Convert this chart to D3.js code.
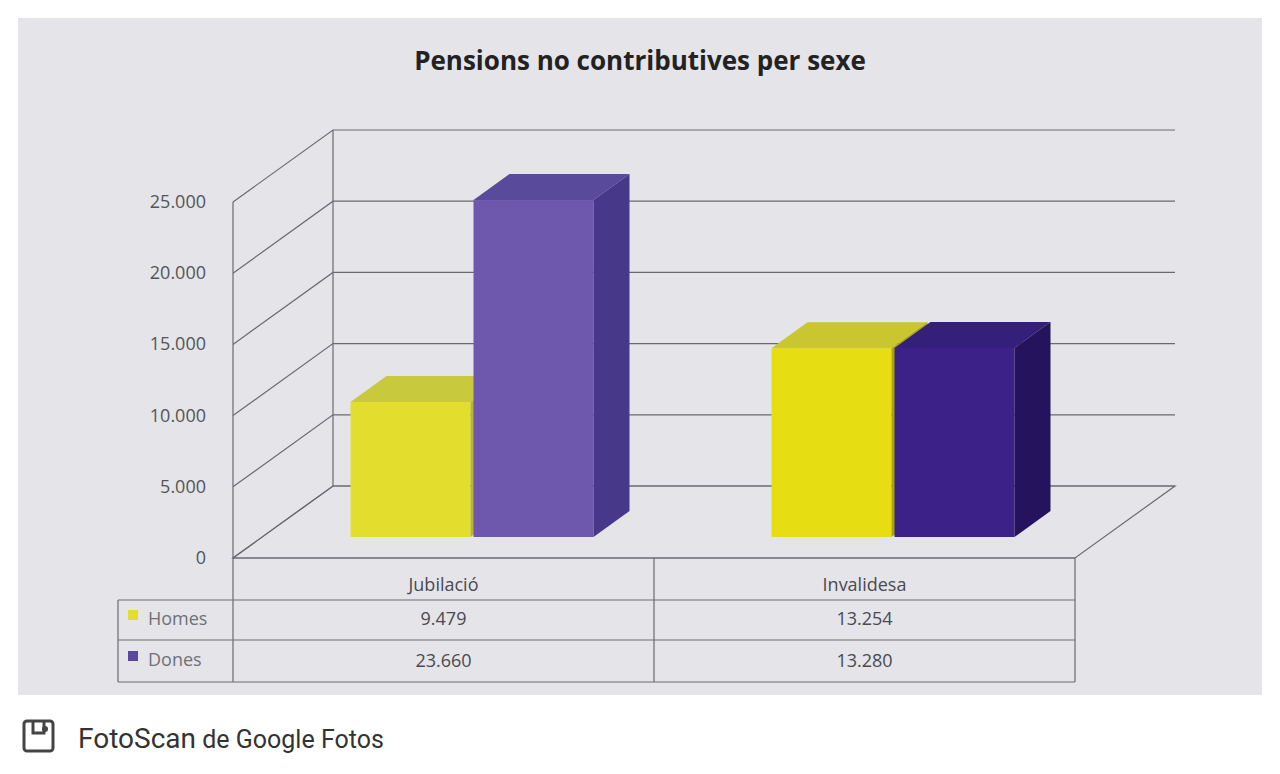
<!DOCTYPE html>
<html><head><meta charset="utf-8">
<script src="https://cdn.jsdelivr.net/npm/d3@7"></script>
<style>body{margin:0;background:#fff}</style></head>
<body><svg id="c" width="1280" height="774"></svg>
<script>
const categories = ["Jubilació", "Invalidesa"];
const seriesNames = ["Homes", "Dones"];
const homes = [9479, 13254];
const dones = [23660, 13280];
const tickValues = [0, 5000, 10000, 15000, 20000, 25000];
const tickLabels = ["0", "5.000", "10.000", "15.000", "20.000", "25.000"];

const svg = d3.select("#c");
svg.append("rect").attr("x",18).attr("y",18).attr("width",1244).attr("height",677).attr("fill","#e4e4e9");

const y = d3.scaleLinear().domain([0,25000]).range([558,202]);
const X0=233, X1=1075, DX=100, DY=-72;
const g = svg.append("g");
const lc="#6a6a70";
g.append("path").attr("d",`M${X0},558L${X1},558L${X1+DX},${558+DY}L${X0+DX},${558+DY}Z`).attr("fill","none").attr("stroke",lc).attr("stroke-width",1.2);
g.append("line").attr("x1",X0).attr("x2",X0).attr("y1",y(0)).attr("y2",y(25000)).attr("stroke",lc).attr("stroke-width",1.2);
tickValues.forEach((v,i)=>{
  const yy=y(v);
  g.append("path").attr("d",`M${X0},${yy}L${X0+DX},${yy+DY}L${X1+DX},${yy+DY}`).attr("fill","none").attr("stroke",lc).attr("stroke-width",1.2);
  g.append("text").attr("x",206).attr("y",yy+6).attr("text-anchor","end").attr("font-family","Open Sans").attr("font-size",18).attr("fill","#555").text(tickLabels[i]);
});
g.append("line").attr("x1",X0+DX).attr("x2",X0+DX).attr("y1",y(0)+DY).attr("y2",y(25000)+DY).attr("stroke",lc).attr("stroke-width",1.2);

const cats = d3.scaleBand().domain(categories).range([X0,X1]);
const colors = {
  Homes:[{f:"#e3de2e",t:"#c8c93c",s:"#b8b52a"},{f:"#e6de12",t:"#c9c630",s:"#a8a312"}],
  Dones:[{f:"#6d58ae",t:"#5a4a9c",s:"#48388a"},{f:"#3c2188",t:"#34207a",s:"#26135e"}]
};
const BW=120, bdx=36, bdy=-26, base=537, offx=29;
function bar(x,v,c){
  const top=base-(558-y(v));
  g.append("rect").attr("x",x).attr("y",top).attr("width",BW).attr("height",base-top).attr("fill",c.f);
  g.append("path").attr("d",`M${x},${top}L${x+bdx},${top+bdy}L${x+BW+bdx},${top+bdy}L${x+BW},${top}Z`).attr("fill",c.t);
  g.append("path").attr("d",`M${x+BW},${top}L${x+BW+bdx},${top+bdy}L${x+BW+bdx},${base+bdy}L${x+BW},${base}Z`).attr("fill",c.s);
}
categories.forEach((cat,i)=>{
  const cx=cats(cat)+cats.bandwidth()/2+offx;
  bar(cx-BW-2,homes[i],colors.Homes[i]);
  bar(cx+1,dones[i],colors.Dones[i]);
});

const t=svg.append("g").attr("stroke","#6a6a70").attr("stroke-width",1.2);
t.append("line").attr("x1",X0).attr("x2",X1).attr("y1",558).attr("y2",558);
[600,640,682].forEach(r=>t.append("line").attr("x1",118).attr("x2",X1).attr("y1",r).attr("y2",r));
t.append("line").attr("x1",118).attr("x2",118).attr("y1",600).attr("y2",682);
[X0,cats("Invalidesa"),X1].forEach(x=>t.append("line").attr("x1",x).attr("x2",x).attr("y1",558).attr("y2",682));
const txt=(x,yy,s,a)=>svg.append("text").attr("x",x).attr("y",yy).attr("text-anchor",a||"middle").attr("font-family","Open Sans").attr("font-size",18).attr("fill","#4a4a50").text(s);
categories.forEach((cat,i)=>{
  const cx=cats(cat)+cats.bandwidth()/2;
  txt(cx,591,cat);
  txt(cx,625,d3.format(",")(homes[i]).replace(/,/g,"."));
  txt(cx,667,d3.format(",")(dones[i]).replace(/,/g,"."));
});
const legC=["#e3de2e","#5a48a0"];
seriesNames.forEach((s,i)=>{
  const yy=[620,661][i];
  svg.append("rect").attr("x",128).attr("y",yy-10).attr("width",10).attr("height",10).attr("fill",legC[i]);
  txt(148,yy+5,s,"start").attr("fill","#707078");
});

svg.append("text").attr("x",640).attr("y",70).attr("text-anchor","middle").attr("font-family","Open Sans").attr("font-weight","bold").attr("font-size",26).attr("fill","#222").text("Pensions no contributives per sexe");

const ic=svg.append("g");
ic.append("rect").attr("x",24).attr("y",721).attr("width",29).attr("height",30).attr("rx",3).attr("fill","none").attr("stroke","#444").attr("stroke-width",3);
ic.append("path").attr("d","M33,721L33,733L44,733L44,721").attr("fill","none").attr("stroke","#444").attr("stroke-width",3);
ic.append("circle").attr("cx",45).attr("cy",729).attr("r",3).attr("fill","#444");
const cap=svg.append("text").attr("x",78).attr("y",748).attr("font-family","Roboto").attr("fill","#333");
cap.append("tspan").attr("font-size",28).text("FotoScan");
cap.append("tspan").attr("font-size",25).text(" de Google Fotos");
</script></body></html>
